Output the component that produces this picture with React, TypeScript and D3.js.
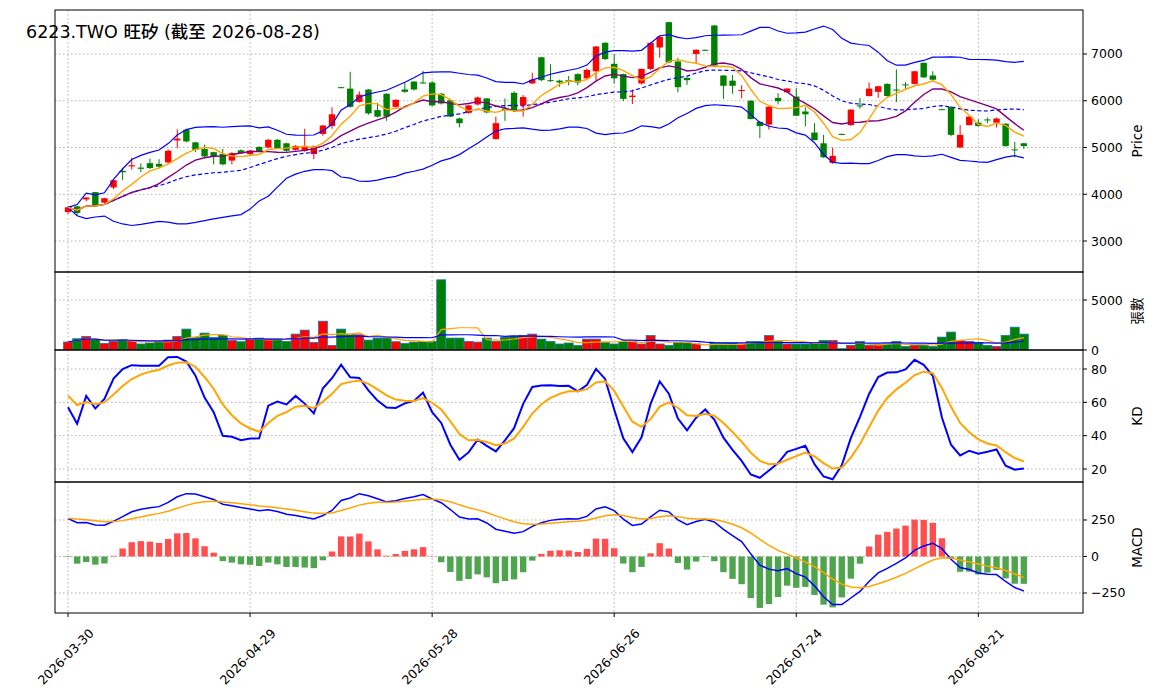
import React from "react";
import * as d3 from "d3";

const holidays = ["2026-04-03", "2026-04-06", "2026-05-01", "2026-06-19"];
const openP = [3620,3740,3890,4045,3820,4145,4500,4595,4570,4665,4650,4680,5150,5380,5110,4970,4900,4860,4720,4940,4860,5010,5000,5165,5090,4950,4930,4860,5290,5460,6290,6260,5975,6240,5800,6150,5870,6240,6410,6390,6390,6150,6010,5620,5740,5920,6050,5180,5830,6170,5900,6370,6930,6440,6430,6440,6570,6480,6630,7240,6790,6570,6080,6370,6680,7140,7680,6840,6490,7000,7090,7610,6540,6430,6220,6000,5550,5490,6060,6180,6090,5770,5320,5090,4670,5290,5480,5900,6100,6190,6360,6240,6350,6360,6810,6540,5820,5870,5000,5480,5530,5600,5530,5510,4960,5090];
const highP = [3740,3760,3940,4050,3925,4310,4560,4780,4660,4760,4750,4960,5390,5400,5120,5060,4910,4970,4900,4960,4950,5030,5180,5180,5100,5050,5400,5040,5480,5860,6300,6620,6200,6250,5960,6160,6030,6380,6420,6640,6420,6170,6020,5640,5910,6090,6060,5660,6050,6200,6120,6600,6940,6780,6450,6530,6590,6690,7170,7250,7000,6580,6240,6690,7250,7380,7690,6920,6500,7100,7095,7620,6550,6550,6330,6010,5560,5880,6160,6270,6270,5860,5520,5270,5000,5300,5820,6060,6390,6320,6370,6670,6400,6640,6820,6630,5830,5880,5480,5670,5600,5640,5640,5520,5120,5100];
const lowP = [3580,3540,3850,3740,3800,4110,4300,4530,4470,4540,4560,4660,4980,5110,4900,4790,4640,4620,4640,4860,4840,4900,4990,4970,4910,4930,4910,4750,5250,5400,6270,5850,5960,5700,5640,5570,5850,6170,6220,6370,5880,5920,5650,5430,5720,5900,5730,5170,5570,5760,5660,6360,6420,6400,6300,6330,6330,6460,6430,6870,6370,5990,5930,6350,6660,6920,6800,6180,6340,6810,7080,6740,6040,6150,6050,5600,5200,5380,5920,6170,5670,5450,5150,4780,4650,5270,5460,5830,6090,6060,6090,5970,6250,6350,6490,6430,5800,5240,4990,5470,5450,5520,5430,5020,4790,4970];
const closeP = [3720,3600,3930,3750,3915,4300,4470,4620,4545,4560,4590,4930,5190,5130,4950,4810,4810,4640,4880,4880,4935,4920,5165,4985,4930,5035,5020,5020,5470,5710,6280,5870,6130,5730,5660,5660,6020,6190,6240,6380,5900,5940,5660,5520,5900,6070,5750,5520,5800,5780,6080,6450,6440,6420,6390,6410,6390,6660,7160,6890,6480,6040,6110,6680,7240,7370,6820,6290,6440,7090,7085,6750,6320,6320,6230,5610,5460,5870,5990,6260,5680,5710,5160,4790,4820,5280,5810,5890,6260,6310,6100,6230,6330,6630,6500,6450,5810,5270,5270,5660,5460,5590,5620,5030,4950,5030];
const volume = [800,1130,1360,1030,660,860,1030,930,600,700,860,990,1360,2090,1260,1690,1260,1460,960,830,1030,1190,1090,1090,860,1590,1990,760,2880,460,2090,1590,1520,990,1190,1190,830,660,790,860,860,7020,1190,1190,860,790,1190,860,1290,1360,1460,1590,1090,860,600,700,460,1090,1090,760,600,860,860,600,1460,600,460,760,700,600,50,700,700,700,600,860,860,1460,860,600,600,600,700,960,960,130,460,860,460,530,600,860,360,460,460,360,1290,1790,960,860,760,460,360,1460,2280,1590];
const tickLabels = ["2026-03-30", "2026-04-29", "2026-05-28", "2026-06-26", "2026-07-24", "2026-08-21"];
const title = "6223.TWO 旺矽 (截至 2026-08-28)";
// indicator states on the first day (history before the window)
const macdStart = 260;
const signalStart = 262;
const kStart = 57;
const dStart = 64;

function makeDates(n: number) {
  const out: string[] = [];
  const d = new Date(Date.UTC(2026, 2, 30));
  while (out.length < n) {
    const s = d.toISOString().slice(0, 10);
    const w = d.getUTCDay();
    if (w !== 0 && w !== 6 && !holidays.includes(s)) out.push(s);
    d.setUTCDate(d.getUTCDate() + 1);
  }
  return out;
}
const N = closeP.length;
const dates = makeDates(N);

const sma = (a: number[], n: number) => a.map((_, i) => d3.mean(a.slice(Math.max(0, i - n + 1), i + 1)) as number);
const sstd = (a: number[], n: number) => a.map((_, i) => { const s = a.slice(Math.max(0, i - n + 1), i + 1); const m = d3.mean(s)!; return Math.sqrt(d3.mean(s.map(v => (v - m) ** 2))!); });
const ema = (a: number[], n: number, start: number) => { const k = 2 / (n + 1); const o: number[] = []; a.forEach((v, i) => o.push(i === 0 ? start : o[i - 1] + k * (v - o[i - 1]))); return o; };

const ma5 = sma(closeP, 5), ma10 = sma(closeP, 10), ma20 = sma(closeP, 20), sd20 = sstd(closeP, 20);
const bbU = ma20.map((m, i) => m + 2 * sd20[i]), bbL = ma20.map((m, i) => m - 2 * sd20[i]);
const vma5 = sma(volume, 5), vma20 = sma(volume, 20);
const Ks: number[] = [], Ds: number[] = [];
closeP.forEach((c, i) => {
  if (i === 0) { Ks.push(kStart); Ds.push(dStart); return; }
  const lo = d3.min(lowP.slice(Math.max(0, i - 8), i + 1))!, hi = d3.max(highP.slice(Math.max(0, i - 8), i + 1))!;
  const rsv = hi === lo ? 50 : (c - lo) / (hi - lo) * 100;
  const k = Ks[i - 1] * 2 / 3 + rsv / 3; Ks.push(k);
  Ds.push(Ds[i - 1] * 2 / 3 + k / 3);
});
const e12 = ema(closeP, 12, closeP[0]), e26 = ema(closeP, 26, closeP[0] - macdStart);
const macd = e12.map((v, i) => v - e26[i]);
const sig = ema(macd, 9, signalStart);
const hist = macd.map((v, i) => 2 * (v - sig[i]));

const L = 55, R = 1083;
const x = d3.scaleLinear().domain([-1.43, 111.5]).range([L, R]);
const panels = [
  { top: 10, bot: 272, dom: [2337, 7941], ticks: [3000, 4000, 5000, 6000, 7000], label: "Price", fmt: (v: number) => String(v) },
  { top: 272, bot: 350, dom: [0, 7800], ticks: [0, 5000], label: "張數", fmt: (v: number) => String(v) },
  { top: 350, bot: 482, dom: [12.2, 91.4], ticks: [20, 40, 60, 80], label: "KD", fmt: (v: number) => String(v) },
  { top: 482, bot: 613, dom: [-387, 510], ticks: [-250, 0, 250], label: "MACD", fmt: (v: number) => (v < 0 ? "\u2212" + -v : String(v)) },
];
const ys = panels.map(p => d3.scaleLinear().domain(p.dom).range([p.bot, p.top]));
const UP = "#ff0000", DN = "#008000";
const font = "'DejaVu Sans', 'Noto Sans CJK TC', sans-serif";

export default function App() {
  const [yp, yv, yk, ym] = ys;
  const line = (arr: number[], y: d3.ScaleLinear<number, number>) => d3.line<number>().x((_, i) => x(i)).y(v => y(v))(arr) || "";
  const tickIdx = tickLabels.map(t => dates.indexOf(t));
  return (
    <svg width={1156} height={698} style={{ position: "absolute", left: 0, top: 0, background: "#fff" }} fontFamily={font}>
      <defs>{panels.map((p, k) => <clipPath id={"c" + k} key={k}><rect x={L} y={p.top} width={R - L} height={p.bot - p.top} /></clipPath>)}</defs>
      {panels.map((p, k) => (
        <g key={k}>
          {tickIdx.map((ti, j) => <line key={j} x1={x(ti)} x2={x(ti)} y1={p.top} y2={p.bot} stroke="#b0b0b0" strokeDasharray="1.5,2.5" />)}
          {p.ticks.map(t => (
            <g key={t}>
              <line x1={L} x2={R} y1={ys[k](t)} y2={ys[k](t)} stroke="#b0b0b0" strokeDasharray="1.5,2.5" />
              <line x1={R} x2={R + 4} y1={ys[k](t)} y2={ys[k](t)} stroke="#000" />
              <text x={R + 8} y={ys[k](t) + 4.5} fontSize={12.5}>{p.fmt(t)}</text>
            </g>
          ))}
          <text transform={`translate(${1142},${(p.top + p.bot) / 2}) rotate(-90)`} textAnchor="middle" fontSize={13.5}>{p.label}</text>
        </g>
      ))}
      <g clipPath="url(#c0)">
        {closeP.map((c, i) => {
          const col = c >= openP[i] ? UP : DN;
          const t = yp(Math.max(c, openP[i])), b = yp(Math.min(c, openP[i]));
          return <g key={i}>
            <line x1={x(i)} x2={x(i)} y1={yp(highP[i])} y2={yp(lowP[i])} stroke={col} strokeWidth={1} />
            <rect x={x(i) - 3.2} width={6.4} y={t} height={Math.max(1, b - t)} fill={col} />
          </g>;
        })}
        <path d={line(bbU, yp)} fill="none" stroke="blue" strokeWidth={1.2} />
        <path d={line(bbL, yp)} fill="none" stroke="blue" strokeWidth={1.2} />
        <path d={line(ma20, yp)} fill="none" stroke="blue" strokeWidth={1.2} strokeDasharray="4,2.5" />
        <path d={line(ma10, yp)} fill="none" stroke="purple" strokeWidth={1.4} />
        <path d={line(ma5, yp)} fill="none" stroke="orange" strokeWidth={1.4} />
      </g>
      <g clipPath="url(#c1)">
        {volume.map((v, i) => <rect key={i} x={x(i) - 4.5} width={9} y={yv(v)} height={yv(0) - yv(v)} fill={closeP[i] >= openP[i] ? UP : DN} stroke="#1f77b4" strokeWidth={0.8} />)}
        <path d={line(vma5, yv)} fill="none" stroke="orange" strokeWidth={1.2} />
        <path d={line(vma20, yv)} fill="none" stroke="blue" strokeWidth={1.2} />
      </g>
      <g clipPath="url(#c2)">
        <path d={line(Ks, yk)} fill="none" stroke="blue" strokeWidth={2} />
        <path d={line(Ds, yk)} fill="none" stroke="orange" strokeWidth={2} />
      </g>
      <g clipPath="url(#c3)">
        {hist.map((h, i) => <rect key={i} x={x(i) - 3.2} width={6.4} y={Math.min(ym(h), ym(0))} height={Math.abs(ym(h) - ym(0))} fill={h >= 0 ? "#ff4444" : "#44a044"} opacity={0.95} />)}
        <path d={line(macd, ym)} fill="none" stroke="blue" strokeWidth={1.5} />
        <path d={line(sig, ym)} fill="none" stroke="orange" strokeWidth={1.5} />
      </g>
      {panels.map((p, k) => <rect key={k} x={L} y={p.top} width={R - L} height={p.bot - p.top} fill="none" stroke="#000" strokeWidth={1} />)}
      {tickIdx.map((ti, j) => (
        <g key={j}>
          <line x1={x(ti)} x2={x(ti)} y1={613} y2={617} stroke="#000" />
          <text transform={`translate(${x(ti) - 2},${657}) rotate(-45)`} textAnchor="middle" dy={4} fontSize={12.5}>{tickLabels[j]}</text>
        </g>
      ))}
      <text x={26} y={38} fontSize={17.5} fontWeight="500">{title}</text>
    </svg>
  );
}
